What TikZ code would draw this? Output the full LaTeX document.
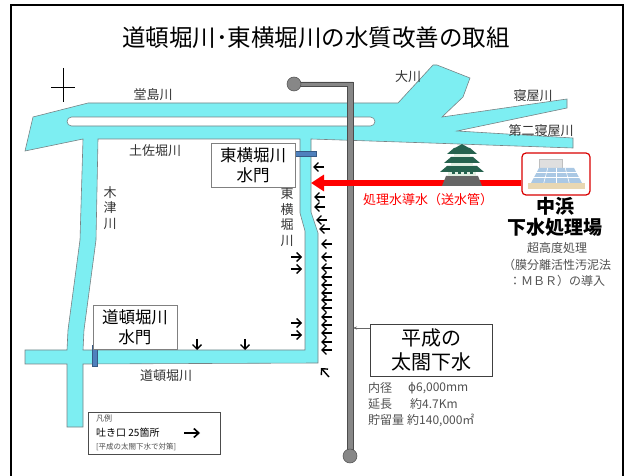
\documentclass[tikz,border=0pt]{standalone}
\usepackage{fontspec}
\setmainfont{Noto Sans CJK JP}
\newfontfamily\symfont{DejaVu Sans}
\usetikzlibrary{arrows.meta}

\definecolor{river}{RGB}{125,238,242}
\definecolor{riveredge}{RGB}{120,130,132}
\definecolor{gateblue}{RGB}{79,129,189}
\definecolor{pipegray}{RGB}{135,135,135}
\definecolor{castlegreen}{RGB}{38,98,78}
\definecolor{castlewall}{RGB}{225,238,225}
\definecolor{specgray}{RGB}{80,80,80}
\definecolor{plantglass}{RGB}{170,200,228}
\definecolor{plantbase}{RGB}{232,215,178}

\tikzset{
  outfall/.style={-{Straight Barb[length=4.5pt,width=9pt]}, line width=1.4pt},
  gatebox/.style={draw=gray, fill=white, align=center, inner sep=2pt,
    minimum width=84pt, minimum height=44pt, font=\fontsize{16.5}{20}\selectfont},
  rivername/.style={font=\fontsize{13}{15}\selectfont, text=black!80},
  rivercol/.style={rivername, align=center, font=\fontsize{13}{15.5}\selectfont},
  spec/.style={anchor=west, inner sep=0pt, text=specgray, font=\fontsize{12}{14}\selectfont},
}

\begin{document}
\begin{tikzpicture}[x=1pt,y=-1pt]
    \useasboundingbox (0,0) rectangle (625,476);

    % Frame and title
    \draw[line width=1.6pt] (11,476) -- (11,5) -- (623,5) -- (623,476);
    \node (title) at (316,38) {\fontsize{23.5}{26}\selectfont 道頓堀川･東横堀川の水質改善の取組};

    % North mark
    \draw[line width=0.8pt] (63,68) -- (63,102);
    \draw[line width=0.8pt] (51,87) -- (75,87);

    % Rivers: one outline with the inner block and the island cut out
    \path[fill=river, draw=riveredge, line width=0.6pt, even odd rule]
        (88,103) -- (398,103) -- (433,65) -- (437,65) -- (470,78) -- (463,97)
        -- (442,117) -- (567,99) -- (567,108) -- (457,131) -- (573,138)
        -- (573,148) -- (430,143) -- (311,139) -- (311,212) -- (318,233)
        -- (318,363) -- (83,364) -- (83,427) -- (67,427) -- (67,364)
        -- (25,364) -- (25,350) -- (67,350) -- (68,330) -- (80,240)
        -- (83,139) -- (25,151) -- (33,117) -- cycle
        (98,139) -- (300,139) -- (300,213) -- (305,231) -- (305,350)
        -- (83,350) -- (84,330) -- (96,240) -- cycle
        {[rounded corners=4.5pt] (67,117) rectangle (375,126)};

    % River names
    \node[rivername] (dojima) at (153,95) {堂島川};
    \node[rivername] (okawa) at (408,77) {大川};
    \node[rivername] (neya) at (533,96) {寝屋川};
    \node[rivername] (neya2) at (541,131) {第二寝屋川};
    \node[rivername] (tosabori) at (155,151) {土佐堀川};
    \node[rivername] (dotonbori) at (166,376) {道頓堀川};
    \node[rivercol] (kizu) at (110,208) {木\\津\\川};
    \node[rivercol] (higashi) at (287,217) {東\\横\\堀\\川};

    % Sluice gates
    \fill[gateblue, draw=gateblue!70!black, line width=0.3pt] (295,151) rectangle (316,156);
    \fill[gateblue, draw=gateblue!70!black, line width=0.3pt] (92,345) rectangle (97,366);
    \node[gatebox] (gate1) at (253,165) {東横堀川\\水門};
    \node[gatebox] (gate2) at (135,327) {道頓堀川\\水門};

    % Outfalls (25)
    \foreach \tx/\y in {313/167, 314/197, 314/207, 316/220, 319/229, 321/244,
                        321/257, 321/268, 321/277, 321/285, 321/293, 321/300,
                        321/308, 321/317, 321/325, 321/333, 321/342, 321/350}
        \draw[outfall] (\tx+11,\y) -- (\tx,\y);
    \foreach \y in {257, 269, 323, 335}
        \draw[outfall] (291,\y) -- (302,\y);
    \foreach \x in {197, 245}
        \draw[outfall] (\x,339) -- (\x,350);
    \draw[outfall] (329,377) -- (321,368);

    % Taiko sewer pipe
    \path[fill=pipegray, draw=black!70, line width=0.5pt]
        (294,82) -- (353,82) -- (353,455) -- (347,455) -- (347,86) -- (294,86) -- cycle;
    \filldraw[fill=pipegray, draw=black!70, line width=0.5pt] (294,84) circle (7);
    \filldraw[fill=pipegray, draw=black!70, line width=0.5pt] (350,456) circle (7);
    \coordinate (pipeside) at (353,328);

    \node[draw=black!75, fill=white, minimum width=122pt, minimum height=52pt,
          align=center, font=\fontsize{20}{24}\selectfont] (taiko) at (431,350) {平成の\\太閤下水};
    \draw[black!60, line width=0.5pt, -{Stealth[length=4pt,width=3pt]}] (taiko.west |- pipeside) -- (pipeside);

    \node[spec] (dia) at (368,388) {内径};
    \node[spec] (diaval) at (408,388) {{\symfont ϕ}6,000mm};
    \node[spec] (len) at (368,404) {延長};
    \node[spec] (lenval) at (410,404) {約4.7Km};
    \node[spec] (vol) at (368,420) {貯留量};
    \node[spec] (volval) at (407,420) {約140,000㎡};

    % Nakahama treatment plant
    \node[draw=red!85!black, rounded corners=4pt, line width=1.2pt,
          minimum width=68pt, minimum height=42pt] (plant) at (556,174) {};
    \fill[gray!25, draw=gray!50, line width=0.3pt] (539,159) rectangle (562,170);
    \fill[plantglass] (531,183) -- (582,183) -- (574,168) -- (539,168) -- cycle;
    \foreach \t in {0.25,0.5,0.75}
        \draw[white, line width=0.6pt] (539+35*\t,168) -- (531+51*\t,183);
    \foreach \s in {172,177}
        \draw[white, line width=0.6pt] (537-0.5*\s+84,\s) -- (576+0.5*\s-84,\s);
    \fill[plantbase] (528,183) rectangle (585,189);
    \node[font=\bfseries\fontsize{19}{21}\selectfont, align=center] (plantname) at (555,217) {中浜\\下水処理場};
    \node[align=center, text=specgray, font=\fontsize{12}{16.5}\selectfont] (mbr) at (557,265)
        {超高度処理\\（膜分離活性汚泥法\\：ＭＢＲ）の導入};

    % Treated water transfer main
    \coordinate (yokobori) at (311,183);
    \draw[red, line width=6pt, -{Triangle[length=13pt,width=16pt]}] (plant.west |- yokobori) -- (yokobori);
    \node[red, font=\fontsize{13}{15}\selectfont] (transfer) at (428,200) {処理水導水（送水管）};

    % Osaka castle
    \fill[black!60] (442,186) -- (482,186) -- (478,176) -- (446,176) -- cycle;
    \fill[castlewall] (448,176) rectangle (476,168);
    \fill[castlegreen] (440,172) -- (484,172) -- (477,166) -- (447,166) -- cycle;
    \fill[castlewall] (451,166) rectangle (473,160);
    \fill[castlegreen] (444,163) -- (480,163) -- (473,157) -- (451,157) -- cycle;
    \fill[castlewall] (454,157) rectangle (470,152);
    \fill[castlegreen] (447,154) -- (477,154) -- (470,148) -- (454,148) -- cycle;
    \fill[castlegreen] (455,148) -- (469,148) -- (462,144) -- cycle;
    \foreach \wx in {452,458,464,470}
        \fill[castlegreen] (\wx,172) rectangle +(3,2.5);

    % Legend
    \node[draw=black!70, minimum width=132pt, minimum height=42pt] (legend) at (154,433) {};
    \node[anchor=west, inner sep=0pt, font=\fontsize{8}{9}\selectfont, text=black!70] (legtitle) at (96,418) {凡例};
    \node[anchor=west, inner sep=0pt, font=\fontsize{10}{12}\selectfont] (legtext) at (96,433) {吐き口 25箇所};
    \draw[-{Straight Barb[length=5pt,width=9pt]}, line width=1.6pt] (184,433) -- (200,433);
    \node[anchor=west, inner sep=0pt, font=\fontsize{7.5}{9}\selectfont, text=black!70] (legnote) at (96,447) {[平成の太閤下水で対策]};
\end{tikzpicture}
\end{document}
